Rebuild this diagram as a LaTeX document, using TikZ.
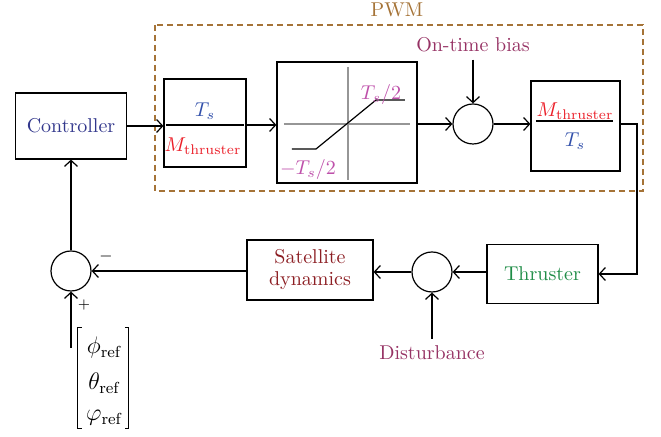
\documentclass[tikz,border=0pt]{standalone}
\usepackage{amsmath}
\usetikzlibrary{arrows.meta}
\definecolor{pwmc}{RGB}{165,115,55}
\definecolor{ctrlc}{RGB}{50,55,140}
\definecolor{tsc}{RGB}{50,80,170}
\definecolor{mthc}{RGB}{235,30,40}
\definecolor{satc}{RGB}{190,80,170}
\definecolor{biasc}{RGB}{150,50,100}
\definecolor{dync}{RGB}{140,30,35}
\definecolor{thrc}{RGB}{30,140,70}
\definecolor{axisc}{RGB}{150,150,150}

\begin{document}
\begin{tikzpicture}[x=0.5pt,y=-0.5pt,line width=0.6pt,
        >={Straight Barb[length=3pt,width=6.5pt]}]
            \tikzstyle{blk}=[draw,rectangle,inner sep=0pt]
            \tikzstyle{sum}=[draw,circle,minimum size=20pt,inner sep=0pt]
            \tikzstyle{lbl}=[inner sep=1pt]
            \useasboundingbox (0,0) rectangle (661,437);

            % PWM part
            \draw[pwmc,dash pattern=on 3pt off 2pt] (155,25) rectangle (643,191);
            \node[lbl,text=pwmc] (pwm) at (397,10) {PWM};

            \node[blk,minimum width=55.5pt,minimum height=33pt,text=ctrlc] (ctrl) at (71,126) {Controller};

            \node[blk,minimum width=41pt,minimum height=44pt] (gain) at (205,123) {};
            \draw (166,125) -- (244,125);
            \node[lbl,text=tsc] (gainnum) at (205,111) {$T_s$};
            \node[lbl,text=mthc] (gainden) at (203,146) {$M_{\text{thruster}}$};

            \node[blk,minimum width=70pt,minimum height=60.5pt] (sat) at (347,122.5) {};
            \draw[axisc] (348,67) -- (348,180);
            \draw[axisc] (284,124) -- (410,124);
            \draw (292,149) -- (316,149) -- (376,100) -- (405,100);
            \node[lbl,text=satc] (satup) at (381,95) {$T_s/2$};
            \node[lbl,text=satc] (satlo) at (308,170) {$-T_s/2$};

            \node[sum] (sum1) at (473,124) {};
            \node[text=biasc] (bias) at (473,45) {On-time bias};

            \node[blk,minimum width=44.5pt,minimum height=45pt] (gain2) at (575.5,126) {};
            \draw (536,121) -- (613,121);
            \node[lbl,text=mthc] (gain2num) at (575,111) {$M_{\text{thruster}}$};
            \node[lbl,text=tsc] (gain2den) at (575,141) {$T_s$};
            \coordinate (turn) at (637,124);

            % plant part
            \node[blk,minimum width=55.5pt,minimum height=29.5pt,text=thrc] (thr) at (542.5,274) {Thruster};
            \node[sum] (sum2) at (432,272) {};
            \node[text=biasc] (dist) at (432,353) {Disturbance};
            \node[blk,minimum width=63pt,minimum height=30pt,text=dync,align=center] (dyn) at (310,270) {Satellite\\[-1pt]dynamics};

            \node[sum] (sum3) at (71,271) {};
            \node[lbl] (minus) at (106,257) {\footnotesize$-$};
            \node[lbl] (plus) at (84,305) {\scriptsize$+$};

            % reference vector
            \node[lbl] (phiref) at (104,348) {\large$\phi_{\text{ref}}$};
            \node[lbl] (thetaref) at (104,383) {\large$\theta_{\text{ref}}$};
            \node[lbl] (psiref) at (104,418) {\large$\varphi_{\text{ref}}$};
            \draw[line width=0.5pt] (82,328) -- (78,328) -- (78,429) -- (82,429);
            \draw[line width=0.5pt] (125,328) -- (129,328) -- (129,429) -- (125,429);
            \coordinate (refin) at (71,348);

            \draw[->] (ctrl) -- (gain.west |- ctrl);
            \draw[->] (gain.east |- 0,125) -- (sat.west |- 0,125);
            \draw[->] (sat.east |- sum1) -- (sum1);
            \draw[->] (bias) -- (sum1);
            \draw[->] (sum1) -- (gain2.west |- sum1);
            \draw[->] (gain2.east |- turn) -- (turn) |- (thr.east);
            \draw[->] (thr.west |- sum2) -- (sum2);
            \draw[->] (dist) -- (sum2);
            \draw[->] (sum2) -- (dyn.east |- sum2);
            \draw[->] (dyn.west |- sum3) -- (sum3);
            \draw[->] (refin) -- (sum3);
            \draw[->] (sum3) -- (ctrl);
        \end{tikzpicture}
\end{document}
